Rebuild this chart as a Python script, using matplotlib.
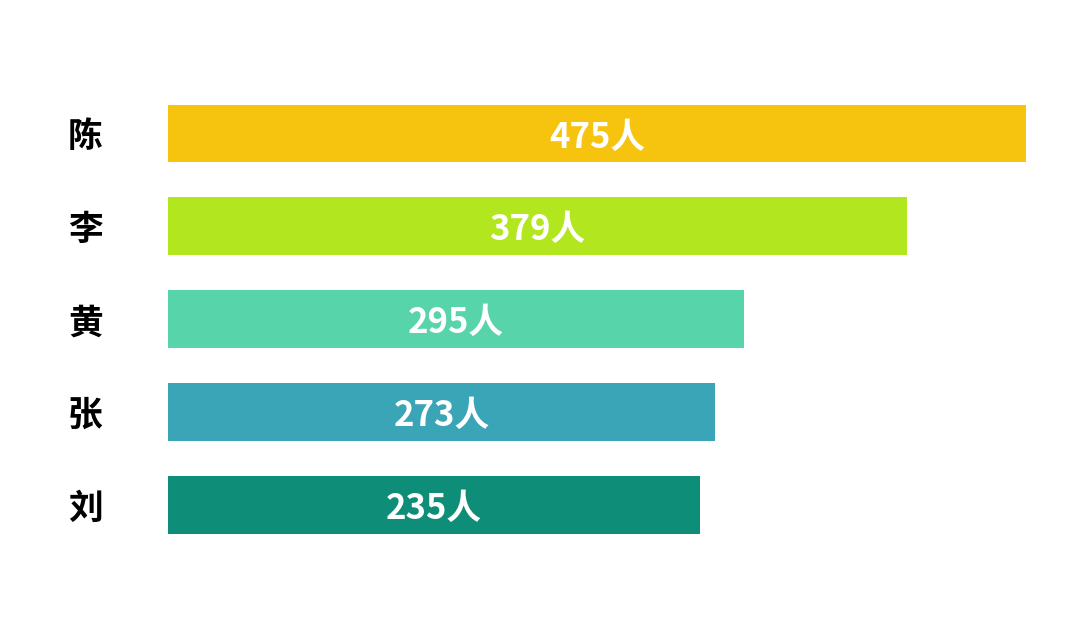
import matplotlib
matplotlib.use("Agg")
import matplotlib.pyplot as plt
from matplotlib.transforms import offset_copy

plt.rcParams['font.family'] = ['Noto Sans CJK SC', 'DejaVu Sans']

# Data
names = ['陈', '李', '黄', '张', '刘']
counts = [475, 379, 295, 273, 235]
# bar lengths as drawn in the picture (same scale as 陈 = 475)
bar_lengths = [475, 409, 319, 303, 294.5]
colors = ['#F6C40F', '#B2E61F', '#57D4A9', '#3AA5B7', '#0E8D78']
label_suffix = '人'

fig = plt.figure(figsize=(10.8, 6.4), dpi=100)
fig.patch.set_facecolor('white')
ax = fig.add_axes([168/1080, 0.1384, (1026-168)/1080, 0.7256])

ypos = list(range(len(names)))
ax.barh(ypos, bar_lengths, height=0.624, color=colors, edgecolor='none')
ax.set_xlim(0, max(bar_lengths))
ax.set_ylim(len(names) - 0.5, -0.5)

trans = offset_copy(ax.transData, fig=fig, x=0, y=-2.5, units='points')
for y, L, c in zip(ypos, bar_lengths, counts):
    ax.text(L / 2, y, f'{c}{label_suffix}', ha='center', va='center',
            color='white', fontsize=25, fontweight='bold', transform=trans)

ax.set_yticks(ypos)
ax.set_yticklabels(names, fontsize=25, fontweight='bold', color='black')
ax.tick_params(axis='y', length=0, pad=47)
ax.set_xticks([])
for s in ax.spines.values():
    s.set_visible(False)

fig.savefig('out.png', dpi=100, facecolor='white')
